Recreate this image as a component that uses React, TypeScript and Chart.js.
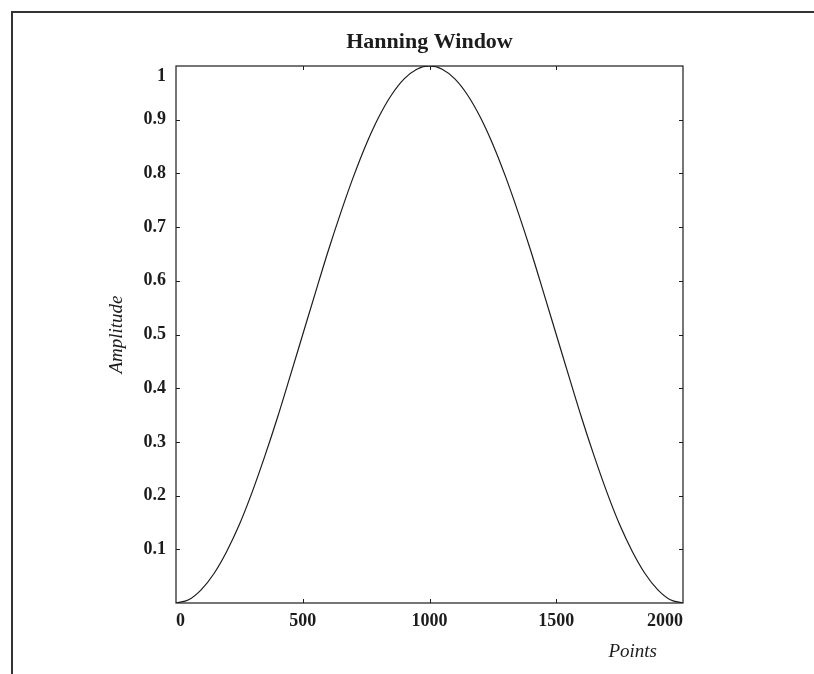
import { useEffect, useRef } from 'react';
import { Chart, registerables } from 'chart.js';

Chart.register(...registerables);

// Sample positions along the window (points)
const samplePoints = [
  0, 50, 100, 150, 200, 250, 300, 350, 400, 450, 500, 550, 600, 650, 700, 750, 800, 850, 900, 950,
  1000, 1050, 1100, 1150, 1200, 1250, 1300, 1350, 1400, 1450, 1500, 1550, 1600, 1650, 1700, 1750,
  1800, 1850, 1900, 1950, 2000,
];

// Window amplitude at each sample position
const amplitude = [
  0, 0.006, 0.025, 0.055, 0.096, 0.146, 0.206, 0.273, 0.345, 0.422, 0.5, 0.578, 0.655, 0.727, 0.794,
  0.854, 0.905, 0.946, 0.976, 0.994, 1, 0.994, 0.976, 0.946, 0.905, 0.854, 0.794, 0.727, 0.655,
  0.578, 0.5, 0.422, 0.345, 0.273, 0.206, 0.146, 0.096, 0.055, 0.025, 0.006, 0,
];

const xTicks = [0, 500, 1000, 1500, 2000];
const yTicks = [0.1, 0.2, 0.3, 0.4, 0.5, 0.6, 0.7, 0.8, 0.9, 1];

const chartTitle = 'Hanning Window';
const xTitle = 'Points';
const yTitle = 'Amplitude';

const SERIF = '"Liberation Serif", "Times New Roman", serif';
const INK = '#1c1c1c';

// Draws the boxed frame with inward tick marks on all four sides, plus the titles.
const framePlugin = {
  id: 'boxFrame',
  afterDraw(chart: any) {
    const { ctx, chartArea: a } = chart;
    const xs = chart.scales.x;
    const ys = chart.scales.y;
    const tick = 4;
    ctx.save();
    ctx.strokeStyle = INK;
    ctx.lineWidth = 1.2;
    ctx.strokeRect(a.left, a.top, a.right - a.left, a.bottom - a.top);

    ctx.lineWidth = 1;
    ctx.beginPath();
    xTicks.slice(1, -1).forEach((v) => {
      const px = Math.round(xs.getPixelForValue(v)) + 0.5;
      ctx.moveTo(px, a.bottom);
      ctx.lineTo(px, a.bottom - tick);
      ctx.moveTo(px, a.top);
      ctx.lineTo(px, a.top + tick);
    });
    yTicks.slice(0, -1).forEach((v) => {
      const py = Math.round(ys.getPixelForValue(v)) + 0.5;
      ctx.moveTo(a.left, py);
      ctx.lineTo(a.left + tick, py);
      ctx.moveTo(a.right, py);
      ctx.lineTo(a.right - tick, py);
    });
    ctx.stroke();

    ctx.fillStyle = INK;
    ctx.font = `bold 22px ${SERIF}`;
    ctx.textAlign = 'center';
    ctx.textBaseline = 'alphabetic';
    ctx.fillText(chartTitle, (a.left + a.right) / 2, 48);

    ctx.font = `italic 19px ${SERIF}`;
    ctx.textAlign = 'right';
    ctx.fillText(xTitle, a.right - 26, 657);

    ctx.translate(117, (a.top + a.bottom) / 2);
    ctx.rotate(-Math.PI / 2);
    ctx.textAlign = 'center';
    ctx.textBaseline = 'middle';
    ctx.fillText(yTitle, 0, 0);
    ctx.restore();
  },
};

export default function App() {
  const canvasRef = useRef<HTMLCanvasElement | null>(null);

  useEffect(() => {
    const canvas = canvasRef.current;
    if (!canvas) return;
    const chart = new Chart(canvas, {
      type: 'line',
      data: {
        datasets: [
          {
            data: samplePoints.map((p, i) => ({ x: p, y: amplitude[i] })),
            borderColor: INK,
            borderWidth: 1.2,
            pointRadius: 0,
            fill: false,
            cubicInterpolationMode: 'monotone',
          },
        ],
      },
      options: {
        animation: false,
        responsive: false,
        devicePixelRatio: 1,
        layout: { padding: { left: 0, top: 66, right: 131, bottom: 0 } },
        plugins: { legend: { display: false }, tooltip: { enabled: false } },
        scales: {
          x: {
            type: 'linear',
            min: 0,
            max: 2000,
            afterFit: (s: any) => {
              s.height = 71;
            },
            afterBuildTicks: (s: any) => {
              s.ticks = xTicks.map((v) => ({ value: v }));
            },
            grid: { display: false, drawTicks: false },
            border: { display: false },
            ticks: {
              padding: 8,
              color: INK,
              maxRotation: 0,
              autoSkip: false,
              align: 'inner',
              font: { family: SERIF, size: 18, weight: 'bold' },
              callback: (v: any) => String(v),
            },
          },
          y: {
            type: 'linear',
            min: 0,
            max: 1,
            afterFit: (s: any) => {
              s.width = 176;
            },
            afterBuildTicks: (s: any) => {
              s.ticks = yTicks.map((v) => ({ value: v }));
            },
            grid: { display: false, drawTicks: false },
            border: { display: false },
            ticks: {
              padding: 10,
              color: INK,
              autoSkip: false,
              font: { family: SERIF, size: 18, weight: 'bold' },
              // the top label sits just below the frame corner
              callback: (v: any) => {
                const s = String(+Number(v).toFixed(1));
                return Number(v) >= 1 ? ['', s] : s;
              },
            },
          },
        },
      },
      plugins: [framePlugin],
    } as any);
    return () => chart.destroy();
  }, []);

  return (
    <div
      style={{
        position: 'fixed',
        left: 0,
        top: 0,
        width: 814,
        height: 674,
        background: '#fff',
        overflow: 'hidden',
      }}
    >
      <div
        style={{
          position: 'absolute',
          left: 11,
          top: 11,
          width: 830,
          height: 700,
          borderLeft: '2px solid #333',
          borderTop: '2px solid #333',
        }}
      />
      <canvas
        ref={canvasRef}
        width={814}
        height={674}
        style={{ position: 'absolute', left: 0, top: 0, width: 814, height: 674 }}
      />
    </div>
  );
}
